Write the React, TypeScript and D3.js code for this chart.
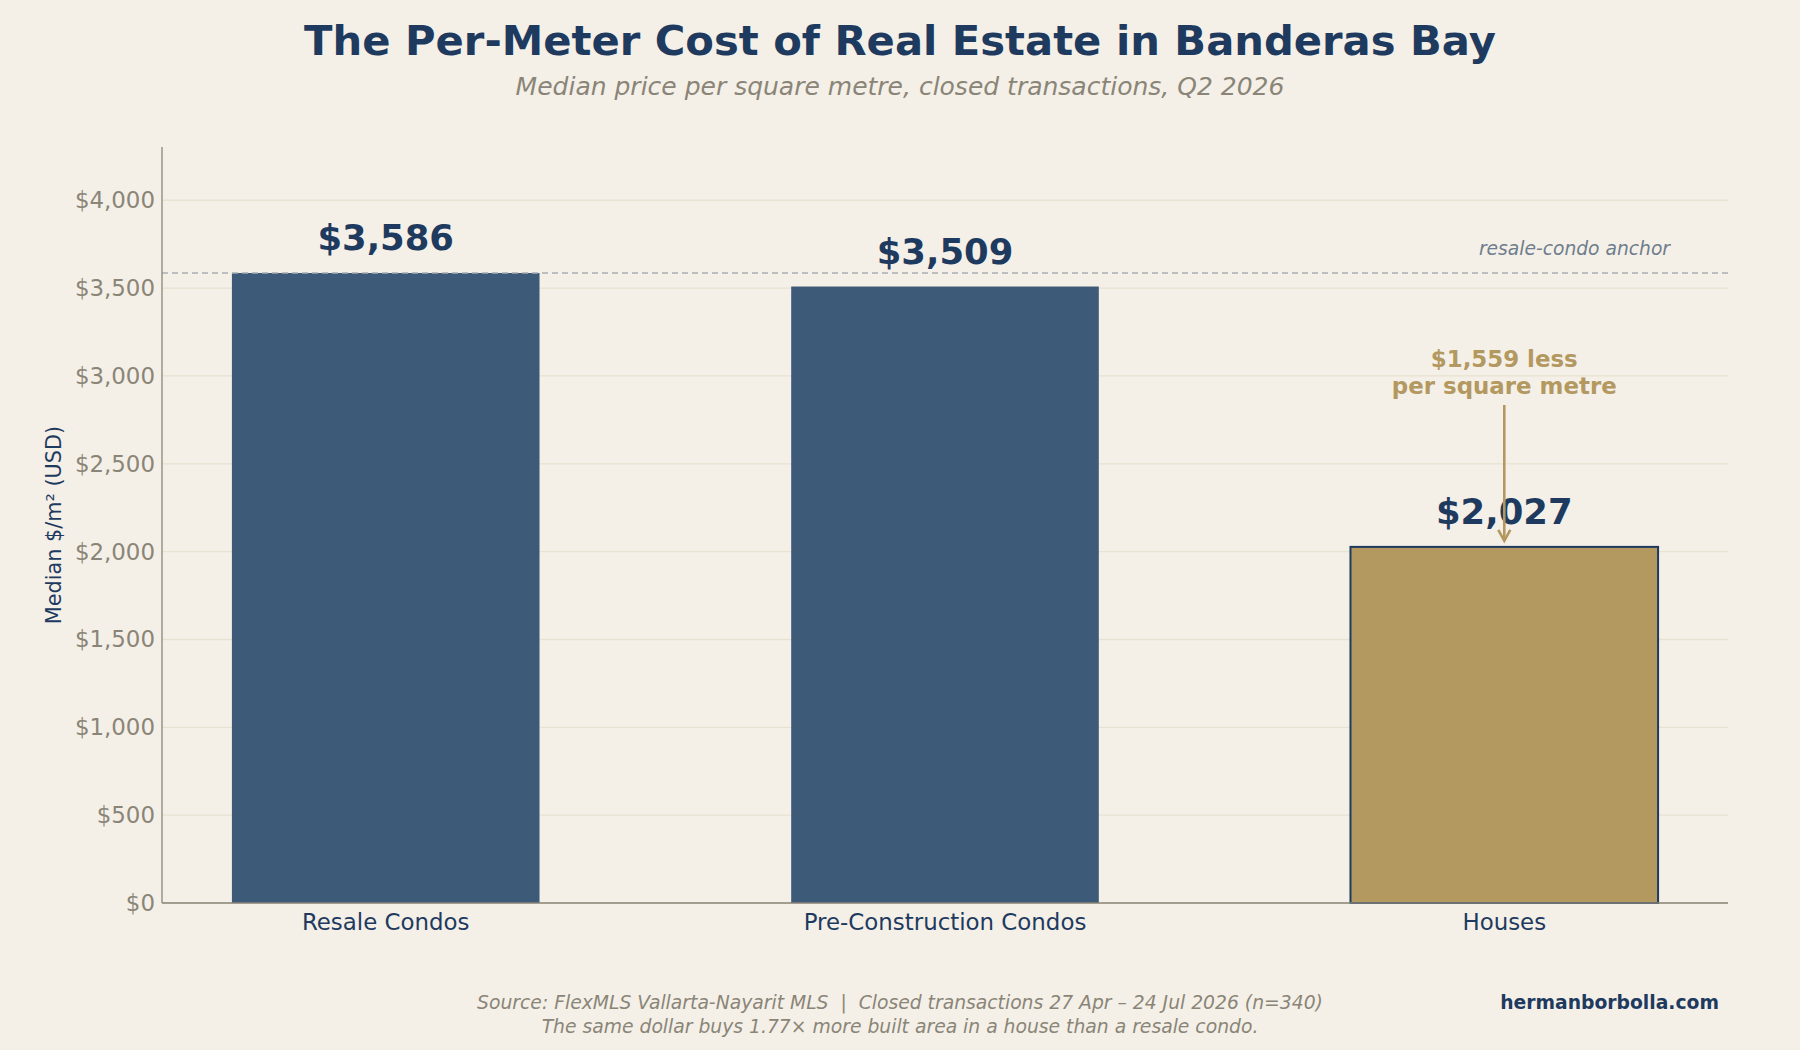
import React, { useEffect, useRef } from 'react';
import * as d3 from 'd3';

const categories = ['Resale Condos', 'Pre-Construction Condos', 'Houses'];
const medianValues = [3586, 3509, 2027];
const yTickValues = [0, 500, 1000, 1500, 2000, 2500, 3000, 3500, 4000];
const anchorValue = 3586;
const gapLabel = ['$1,559 less', 'per square metre'];

const App: React.FC = () => {
  const ref = useRef<SVGSVGElement | null>(null);

  useEffect(() => {
    if (!ref.current) return;
    const W = 1800;
    const H = 1050;
    const left = 162, right = 1728, top = 147, bottom = 903;
    const font = 'DejaVu Sans, sans-serif';
    const navy = '#1e3a5f';
    const grey = '#8a8577';
    const gold = '#b39860';

    const svg = d3.select(ref.current).attr('width', W).attr('height', H);
    svg.selectAll('*').remove();

    svg.append('rect').attr('width', W).attr('height', H).attr('fill', '#f4f0e8');

    // scales: categories at integer positions, xlim -0.4..2.4
    const x = d3.scaleLinear().domain([-0.4, categories.length - 1 + 0.4]).range([left, right]);
    const y = d3.scaleLinear().domain([0, d3.max(medianValues)! * 1.2]).range([bottom, top]);
    const barW = 0.55;

    // grid
    svg.append('g')
      .selectAll('line')
      .data(yTickValues)
      .enter().append('line')
      .attr('x1', left).attr('x2', right)
      .attr('y1', (d) => y(d)).attr('y2', (d) => y(d))
      .attr('stroke', '#e8e2d0')
      .attr('stroke-width', 1.3);

    // bars
    svg.append('g')
      .selectAll('rect')
      .data(medianValues)
      .enter().append('rect')
      .attr('x', (_, i) => x(i - barW / 2))
      .attr('width', x(barW) - x(0))
      .attr('y', (d) => y(d))
      .attr('height', (d) => y(0) - y(d))
      .attr('fill', (_, i) => (i === 2 ? gold : '#3e5a79'))
      .attr('stroke', (_, i) => (i === 2 ? navy : 'none'))
      .attr('stroke-width', 2);

    // anchor line
    svg.append('line')
      .attr('x1', left).attr('x2', right)
      .attr('y1', y(anchorValue)).attr('y2', y(anchorValue))
      .attr('stroke', '#a9adb3')
      .attr('stroke-width', 1.6)
      .attr('stroke-dasharray', '6,4');

    svg.append('text')
      .attr('x', 1670).attr('y', 255)
      .attr('text-anchor', 'end')
      .style('font-family', font).style('font-style', 'italic')
      .style('font-size', '18.7px').style('fill', '#6f7d8c')
      .text('resale-condo anchor');

    // spines
    svg.append('line').attr('x1', left).attr('x2', left).attr('y1', top).attr('y2', bottom)
      .attr('stroke', grey).attr('stroke-width', 1.3);
    svg.append('line').attr('x1', left).attr('x2', right).attr('y1', bottom).attr('y2', bottom)
      .attr('stroke', grey).attr('stroke-width', 1.3);

    // y ticks
    svg.append('g')
      .selectAll('text')
      .data(yTickValues)
      .enter().append('text')
      .attr('x', left - 7)
      .attr('y', (d) => y(d))
      .attr('dy', '0.35em')
      .attr('text-anchor', 'end')
      .style('font-family', font).style('font-size', '22.9px').style('fill', grey)
      .text((d) => '$' + d3.format(',')(d));

    // x ticks
    svg.append('g')
      .selectAll('text')
      .data(categories)
      .enter().append('text')
      .attr('x', (_, i) => x(i))
      .attr('y', bottom + 27)
      .attr('text-anchor', 'middle')
      .style('font-family', font).style('font-size', '22.9px').style('fill', navy)
      .text((d) => d);

    // y label
    svg.append('text')
      .attr('transform', `translate(61,${(top + bottom) / 2}) rotate(-90)`)
      .attr('text-anchor', 'middle')
      .style('font-family', font).style('font-size', '20.8px').style('fill', navy)
      .text('Median $/m² (USD)');

    // value labels
    svg.append('g')
      .selectAll('text')
      .data(medianValues)
      .enter().append('text')
      .attr('x', (_, i) => x(i))
      .attr('y', (d) => y(d) - 23)
      .attr('text-anchor', 'middle')
      .style('font-family', font).style('font-weight', 'bold')
      .style('font-size', '35.4px').style('fill', navy)
      .text((d) => '$' + d3.format(',')(d));

    // gap annotation
    const gx = x(2);
    svg.append('g')
      .selectAll('text')
      .data(gapLabel)
      .enter().append('text')
      .attr('x', gx)
      .attr('y', (_, i) => 367 + i * 27)
      .attr('text-anchor', 'middle')
      .style('font-family', font).style('font-weight', 'bold')
      .style('font-size', '22.9px').style('fill', gold)
      .text((d) => d);

    const tipY = y(medianValues[2]) - 6;
    svg.append('line')
      .attr('x1', gx).attr('x2', gx).attr('y1', 405).attr('y2', tipY)
      .attr('stroke', gold).attr('stroke-width', 2.6);
    svg.append('path')
      .attr('d', `M${gx - 6},${tipY - 11} L${gx},${tipY} L${gx + 6},${tipY - 11}`)
      .attr('fill', 'none').attr('stroke', gold).attr('stroke-width', 2.6);

    // titles
    svg.append('text')
      .attr('x', W / 2).attr('y', 55)
      .attr('text-anchor', 'middle')
      .style('font-family', font).style('font-weight', 'bold')
      .style('font-size', '41.7px').style('fill', navy)
      .text('The Per-Meter Cost of Real Estate in Banderas Bay');

    svg.append('text')
      .attr('x', W / 2).attr('y', 95)
      .attr('text-anchor', 'middle')
      .style('font-family', font).style('font-style', 'italic')
      .style('font-size', '25px').style('fill', grey)
      .text('Median price per square metre, closed transactions, Q2 2026');

    // footer
    svg.append('text')
      .attr('x', W / 2).attr('y', 1009)
      .attr('text-anchor', 'middle')
      .style('font-family', font).style('font-style', 'italic')
      .style('font-size', '18.75px').style('fill', grey)
      .style('white-space', 'pre')
      .text('Source: FlexMLS Vallarta-Nayarit MLS  |  Closed transactions 27 Apr – 24 Jul 2026 (n=340)');

    svg.append('text')
      .attr('x', W / 2).attr('y', 1033)
      .attr('text-anchor', 'middle')
      .style('font-family', font).style('font-style', 'italic')
      .style('font-size', '18.75px').style('fill', grey)
      .text('The same dollar buys 1.77× more built area in a house than a resale condo.');

    svg.append('text')
      .attr('x', 1719).attr('y', 1009)
      .attr('text-anchor', 'end')
      .style('font-family', font).style('font-weight', 'bold')
      .style('font-size', '18.75px').style('fill', navy)
      .text('hermanborbolla.com');
  }, []);

  return <svg ref={ref} style={{ position: 'absolute', left: 0, top: 0, display: 'block' }}></svg>;
};

export default App;
